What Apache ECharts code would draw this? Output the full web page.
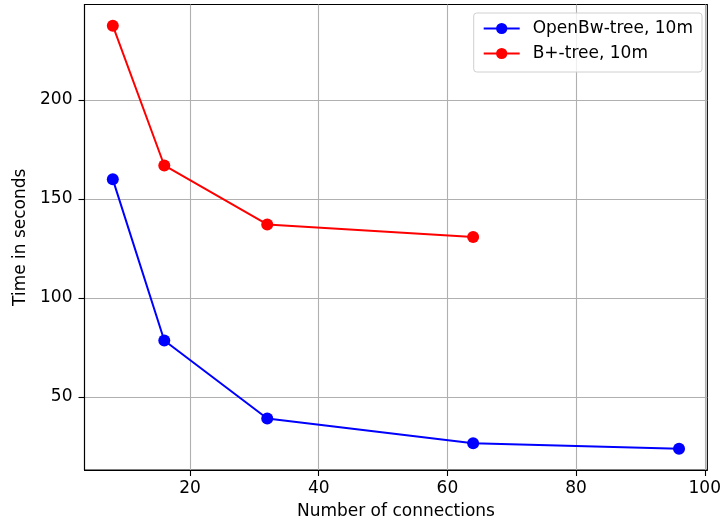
<!DOCTYPE html>
<html>
<head>
<meta charset="utf-8">
<script src="https://cdn.jsdelivr.net/npm/echarts@6/dist/echarts.min.js"></script>
<style>
html,body{margin:0;padding:0;background:#fff;}
#chart{width:724px;height:529px;}
</style>
</head>
<body>
<div id="chart"></div>
<script>
const blueName = 'OpenBw-tree, 10m';
const redName = 'B+-tree, 10m';
const blueConnections = [8, 16, 32, 64, 96];
const blueTimes = [159.9, 78.5, 39.1, 26.6, 23.8];
const redConnections = [8, 16, 32, 64];
const redTimes = [237.5, 166.9, 137.1, 130.8];
const xTicks = [20, 40, 60, 80, 100];
const yTicks = [50, 100, 150, 200];
const xLabel = 'Number of connections';
const yLabel = 'Time in seconds';

const font = 'DejaVu Sans';
const chart = echarts.init(document.getElementById('chart'), null, {renderer: 'canvas'});
const zip = (xs, ys) => xs.map((x, i) => [x, ys[i]]);

chart.setOption({
  animation: false,
  backgroundColor: '#fff',
  textStyle: {fontFamily: font},
  grid: {left: 84.5, top: 4.5, right: 14, bottom: 59, show: true, borderColor: '#000', borderWidth: 1.1, containLabel: false},
  legend: {
    orient: 'vertical',
    right: 22, top: 13,
    itemWidth: 36, itemHeight: 14,
    itemGap: 8,
    padding: [7, 9, 10, 9],
    borderColor: '#d0d0d0', borderWidth: 1, borderRadius: 3,
    backgroundColor: 'rgba(255,255,255,0.8)',
    textStyle: {fontFamily: font, fontSize: 17, color: '#000', padding: [0, 0, 0, 8]},
    data: [blueName, redName]
  },
  xAxis: {
    type: 'value',
    min: 3.6, max: 100.4,
    name: xLabel, nameLocation: 'middle', nameGap: 33,
    nameTextStyle: {fontFamily: font, fontSize: 17, color: '#000'},
    axisLine: {show: true, onZero: false, lineStyle: {color: '#000', width: 1.1}},
    axisTick: {show: true, length: 6, lineStyle: {color: '#000', width: 1.1}, customValues: xTicks},
    axisLabel: {fontFamily: font, fontSize: 17, color: '#000', margin: 10, customValues: xTicks},
    splitLine: {show: true, lineStyle: {color: '#b0b0b0', width: 1.1}}
  },
  yAxis: {
    type: 'value',
    min: 13.1, max: 248.2,
    name: yLabel, nameLocation: 'middle', nameGap: 55,
    nameTextStyle: {fontFamily: font, fontSize: 17, color: '#000'},
    axisLine: {show: true, onZero: false, lineStyle: {color: '#000', width: 1.1}},
    axisTick: {show: true, length: 6, lineStyle: {color: '#000', width: 1.1}, customValues: yTicks},
    axisLabel: {fontFamily: font, fontSize: 17, color: '#000', margin: 12, customValues: yTicks},
    splitLine: {show: true, lineStyle: {color: '#b0b0b0', width: 1.1}}
  },
  series: [
    {
      name: blueName, type: 'line', data: zip(blueConnections, blueTimes),
      symbol: 'circle', symbolSize: 12,
      itemStyle: {color: '#0000ff'}, lineStyle: {color: '#0000ff', width: 2}
    },
    {
      name: redName, type: 'line', data: zip(redConnections, redTimes),
      symbol: 'circle', symbolSize: 12,
      itemStyle: {color: '#ff0000'}, lineStyle: {color: '#ff0000', width: 2}
    }
  ]
});
</script>
</body>
</html>
